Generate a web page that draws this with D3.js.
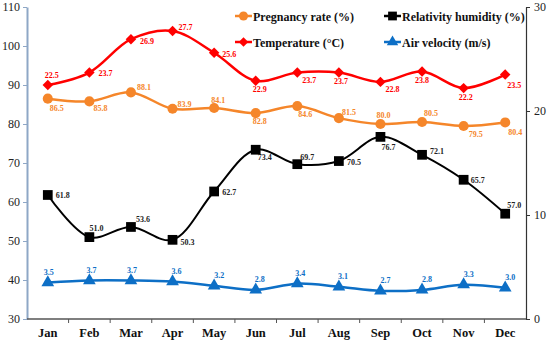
<!DOCTYPE html>
<html>
<head>
<meta charset="utf-8">
<script src="https://cdn.jsdelivr.net/npm/d3@7"></script>
<style>
  body { margin: 0; background: #fff; }
</style>
</head>
<body>
<div id="chart"></div>
<script>
// chart data
var months = ['Jan', 'Feb', 'Mar', 'Apr', 'May', 'Jun', 'Jul', 'Aug', 'Sep', 'Oct', 'Nov', 'Dec'];
var pregnancy = [86.5, 85.8, 88.1, 83.9, 84.1, 82.8, 84.6, 81.5, 80.0, 80.5, 79.5, 80.4];
var humidity = [61.8, 51.0, 53.6, 50.3, 62.7, 73.4, 69.7, 70.5, 76.7, 72.1, 65.7, 57.0];
var temperature = [22.5, 23.7, 26.9, 27.7, 25.6, 22.9, 23.7, 23.7, 22.8, 23.8, 22.2, 23.5];
var velocity = [3.5, 3.7, 3.7, 3.6, 3.2, 2.8, 3.4, 3.1, 2.7, 2.8, 3.3, 3.0];
var leftTicks = [30, 40, 50, 60, 70, 80, 90, 100, 110];
var rightTicks = [0, 10, 20, 30];

// label offsets [dx, dy, anchor] for the data labels
var offPreg = [[9,12,'middle'],[11,10,'middle'],[6,-2,'start'],[5,-2,'start'],[4,-5,'middle'],[4,11,'middle'],[8,11,'middle'],[3,-3,'start'],[3,-6,'middle'],[9,-6,'middle'],[5,11,'start'],[3,13,'start']];
var offHum = [[8,3,'start'],[7,-6,'middle'],[5,-5,'start'],[8,5,'start'],[8,4,'start'],[2,10,'start'],[3,-4,'start'],[8,4,'start'],[8,13,'middle'],[8,-1,'start'],[7,3,'start'],[2,-6,'start']];
var offTemp = [[4,-7,'middle'],[9,3,'start'],[9,5,'start'],[6,-1,'start'],[8,4,'start'],[4,11,'middle'],[5,10,'start'],[2,11,'middle'],[5,10,'start'],[0,12,'middle'],[2,12,'middle'],[2,13,'start']];
var offVel = [[1,-8,'middle'],[2,-8,'middle'],[1,-8,'middle'],[4,-8,'middle'],[5,-8,'middle'],[4,-8,'middle'],[3,-8,'middle'],[4,-8,'middle'],[5,-8,'middle'],[5,-8,'middle'],[5,-8,'middle'],[5,-8,'middle']];

var serif = '"Liberation Serif", "Times New Roman", serif';
var width = 550, height = 343;
var margin = { left: 27, right: 24, top: 7, bottom: 24 };

var svg = d3.select('#chart').append('svg')
    .attr('width', width)
    .attr('height', height)
    .attr('font-family', serif);

var x = d3.scaleBand()
    .domain(months)
    .range([margin.left, width - margin.right]);

var yL = d3.scaleLinear()
    .domain([30, 110])
    .range([height - margin.bottom, margin.top]);

var yR = d3.scaleLinear()
    .domain([0, 30])
    .range([height - margin.bottom, margin.top]);

function cx(d, i) { return x(months[i]) + x.bandwidth() / 2; }

// left axis
var gL = svg.append('g')
    .attr('transform', 'translate(' + margin.left + ',0)')
    .call(d3.axisLeft(yL).tickValues(leftTicks).tickSize(4).tickSizeOuter(0))
    .attr('font-family', serif);
gL.select('.domain').attr('stroke', '#8ea7c6').attr('stroke-width', 2);
gL.selectAll('.tick line').attr('stroke', '#8ea7c6');
gL.selectAll('.tick text').attr('font-size', 12).attr('fill', '#222').attr('x', -7);

// right axis
var gR = svg.append('g')
    .attr('transform', 'translate(' + (width - margin.right) + ',0)')
    .call(d3.axisRight(yR).tickValues(rightTicks).tickSize(4).tickSizeOuter(0))
    .attr('font-family', serif);
gR.select('.domain').attr('stroke', '#333').attr('stroke-width', 1.2);
gR.selectAll('.tick line').attr('stroke', '#333');
gR.selectAll('.tick text').attr('font-size', 12).attr('fill', '#222').attr('x', 8);

// bottom axis, ticks between months
var gB = svg.append('g')
    .attr('transform', 'translate(0,' + (height - margin.bottom) + ')');
gB.append('line')
    .attr('x1', margin.left).attr('x2', width - margin.right)
    .attr('stroke', '#555').attr('stroke-width', 1.5);
gB.selectAll('.sep').data(months.slice(1))
  .enter().append('line')
    .attr('x1', function(d) { return x(d); })
    .attr('x2', function(d) { return x(d); })
    .attr('y2', 4)
    .attr('stroke', '#555');
gB.selectAll('.mlabel').data(months)
  .enter().append('text')
    .attr('x', function(d) { return x(d) + x.bandwidth() / 2; })
    .attr('y', 18)
    .attr('text-anchor', 'middle')
    .attr('font-size', 12.5)
    .attr('font-weight', 'bold')
    .attr('fill', '#111')
    .text(function(d) { return d; });

// marker symbols (diamond = square turned 45 degrees)
var symbols = {
    circle: { gen: d3.symbol().type(d3.symbolCircle).size(80), rot: 0 },
    square: { gen: d3.symbol().type(d3.symbolSquare).size(95), rot: 0 },
    diamond: { gen: d3.symbol().type(d3.symbolSquare).size(55), rot: 45 },
    triangle: { gen: d3.symbol().type(d3.symbolTriangle).size(70), rot: 0 }
};

var series = [
    { values: humidity, scale: yL, color: '#000', width: 2, symbol: 'square', off: offHum, labelColor: '#222' },
    { values: pregnancy, scale: yL, color: '#f5862a', width: 2.5, symbol: 'circle', off: offPreg, labelColor: '#f5862a' },
    { values: temperature, scale: yR, color: '#ff0000', width: 2.5, symbol: 'diamond', off: offTemp, labelColor: '#ff0000' },
    { values: velocity, scale: yR, color: '#0d6fc6', width: 2.5, symbol: 'triangle', off: offVel, labelColor: '#0d6fc6' }
];

series.forEach(function(s) {
    var sym = symbols[s.symbol];
    var line = d3.line()
        .x(cx)
        .y(function(d) { return s.scale(d); })
        .curve(d3.curveCatmullRom.alpha(0.5));

    svg.append('path')
        .datum(s.values)
        .attr('d', line)
        .attr('fill', 'none')
        .attr('stroke', s.color)
        .attr('stroke-width', s.width);

    svg.selectAll(null).data(s.values)
      .enter().append('path')
        .attr('d', sym.gen)
        .attr('transform', function(d, i) {
            return 'translate(' + cx(d, i) + ',' + s.scale(d) + ') rotate(' + sym.rot + ')';
        })
        .attr('fill', s.color);

    svg.selectAll(null).data(s.values)
      .enter().append('text')
        .attr('x', function(d, i) { return cx(d, i) + s.off[i][0]; })
        .attr('y', function(d, i) { return s.scale(d) + s.off[i][1]; })
        .attr('text-anchor', function(d, i) { return s.off[i][2]; })
        .attr('font-size', 8)
        .attr('font-weight', 'bold')
        .attr('fill', s.labelColor)
        .text(function(d) { return d3.format('.1f')(d); });
});

// legend
var legend = [
    { name: 'Pregnancy rate (%)', color: '#f5862a', symbol: 'circle', x: 235, y: 16 },
    { name: 'Relativity humidity (%)', color: '#000', symbol: 'square', x: 384, y: 16 },
    { name: 'Temperature (\u00B0C)', color: '#ff0000', symbol: 'diamond', x: 235, y: 42 },
    { name: 'Air velocity (m/s)', color: '#0d6fc6', symbol: 'triangle', x: 384, y: 42 }
];

var lg = svg.selectAll('.legend').data(legend)
  .enter().append('g')
    .attr('transform', function(d) { return 'translate(' + d.x + ',' + d.y + ')'; });
lg.append('line')
    .attr('x1', 0).attr('x2', 17)
    .attr('stroke', function(d) { return d.color; })
    .attr('stroke-width', 2.5);
lg.append('path')
    .attr('d', function(d) { return symbols[d.symbol].gen(); })
    .attr('transform', function(d) { return 'translate(8.5,0) rotate(' + symbols[d.symbol].rot + ') scale(0.9)'; })
    .attr('fill', function(d) { return d.color; });
lg.append('text')
    .attr('x', 18)
    .attr('y', 4.5)
    .attr('font-size', 12)
    .attr('font-weight', 'bold')
    .attr('fill', '#111')
    .text(function(d) { return d.name; });
</script>
</body>
</html>
